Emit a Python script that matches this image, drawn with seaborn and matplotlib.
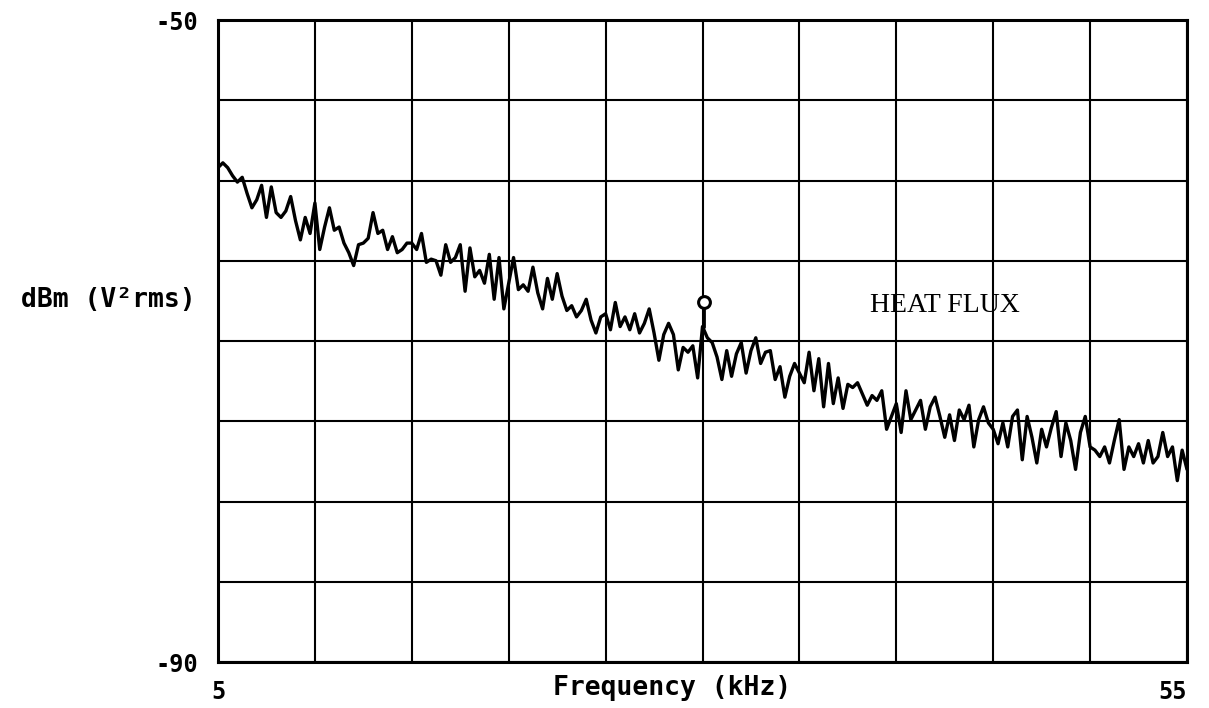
import numpy as np
import pandas as pd
import matplotlib
matplotlib.use("Agg")
import matplotlib.pyplot as plt
import seaborn as sns

# Spectrum analyser sweep: 5-55 kHz, 201 bins (0.25 kHz spacing)
f_start, f_stop = 5.0, 55.0
freq_khz = np.linspace(f_start, f_stop, 201)

# Measured level in dBm, one list per 5 kHz span
level_05_10 = [-59.2, -58.9, -59.2, -59.7, -60.1, -59.8, -60.8, -61.7, -61.2, -60.3,
               -62.3, -60.4, -62.0, -62.3, -61.9, -61.0, -62.5, -63.7, -62.3, -63.3]
level_10_15 = [-61.4, -64.3, -62.9, -61.7, -63.1, -62.9, -63.9, -64.5, -65.3, -64.0,
               -63.9, -63.6, -62.0, -63.3, -63.1, -64.3, -63.5, -64.5, -64.3, -63.9]
level_15_20 = [-63.9, -64.3, -63.3, -65.1, -64.9, -65.0, -65.9, -64.0, -65.1, -64.8,
               -64.0, -66.9, -64.2, -66.0, -65.6, -66.4, -64.6, -67.4, -64.8, -68.0]
level_20_25 = [-66.4, -64.8, -66.8, -66.5, -66.9, -65.4, -67.0, -68.0, -66.1, -67.4,
               -65.8, -67.2, -68.1, -67.8, -68.5, -68.1, -67.4, -68.7, -69.5, -68.5]
level_25_30 = [-68.3, -69.3, -67.6, -69.1, -68.5, -69.3, -68.3, -69.5, -68.9, -68.0,
               -69.5, -71.2, -69.6, -68.9, -69.6, -71.8, -70.4, -70.7, -70.3, -72.3]
level_30_35 = [-69.1, -69.8, -70.1, -71.0, -72.4, -70.6, -72.2, -70.8, -70.1, -72.0,
               -70.6, -69.8, -71.4, -70.7, -70.6, -72.4, -71.6, -73.5, -72.2, -71.4]
level_35_40 = [-72.0, -72.6, -70.7, -73.1, -71.1, -74.1, -71.4, -73.9, -72.3, -74.2,
               -72.7, -72.9, -72.6, -73.3, -74.0, -73.4, -73.7, -73.1, -75.5, -74.7]
level_40_45 = [-73.9, -75.7, -73.1, -74.9, -74.3, -73.7, -75.5, -74.1, -73.5, -74.7,
               -76.0, -74.6, -76.2, -74.3, -74.9, -74.0, -76.6, -74.9, -74.1, -75.1]
level_45_50 = [-75.5, -76.4, -75.1, -76.6, -74.7, -74.3, -77.4, -74.7, -76.0, -77.6,
               -75.5, -76.6, -75.4, -74.4, -77.2, -75.1, -76.2, -78.0, -75.7, -74.7]
level_50_55 = [-76.6, -76.8, -77.2, -76.6, -77.6, -76.2, -74.9, -78.0, -76.6, -77.2,
               -76.4, -77.6, -76.2, -77.6, -77.2, -75.7, -77.2, -76.6, -78.7, -76.8,
               -78.0]

level_dbm = (level_05_10 + level_10_15 + level_15_20 + level_20_25 + level_25_30
             + level_30_35 + level_35_40 + level_40_45 + level_45_50 + level_50_55)

# Marker readout position
marker_khz = 30.1
marker_peak_dbm = -69.1
marker_dbm = -67.6

db_min, db_max = -90, -50
trace_label = "HEAT FLUX"

df = pd.DataFrame({"freq": freq_khz, "level": level_dbm})

sns.set_style("white")
mono = ["DejaVu Sans Mono"]
plt.rcParams["font.family"] = mono
plt.rcParams["text.color"] = "black"

fig = plt.figure(figsize=(12.09, 7.08), dpi=100)
ax = fig.add_axes([218 / 1209, 1 - 662 / 708, 969 / 1209, 642 / 708])

sns.lineplot(data=df, x="freq", y="level", ax=ax, color="black",
             linewidth=2.4, estimator=None, sort=False)

# marker stem and symbol
ax.plot([marker_khz, marker_khz], [marker_peak_dbm, marker_dbm],
        color="black", linewidth=2.0)
ax.plot([marker_khz], [marker_dbm], marker="o", markersize=8.5,
        markerfacecolor="white", markeredgecolor="black", markeredgewidth=2.2)

ax.set_xlim(f_start, f_stop)
ax.set_ylim(db_min, db_max)

xt = np.arange(5, 56, 5)
yt = np.arange(db_min, db_max + 1, 5)
ax.set_xticks(xt)
ax.set_yticks(yt)
ax.set_xticklabels(["5"] + [""] * (len(xt) - 2) + ["55"])
ax.set_yticklabels(["-90"] + [""] * (len(yt) - 2) + ["-50"])
xlabels = ax.get_xticklabels()
xlabels[-1].set_ha("right")
ax.tick_params(axis="both", length=0, labelsize=17, colors="black")
ax.tick_params(axis="x", pad=13)
ax.tick_params(axis="y", pad=14)
for lab in ax.get_xticklabels() + ax.get_yticklabels():
    lab.set_fontweight("bold")

ax.grid(True, color="black", linewidth=1.5)
for side in ax.spines.values():
    side.set_visible(True)
    side.set_color("black")
    side.set_linewidth(2.2)
ax.set_xlabel("")
ax.set_ylabel("")

fig.text(672 / 1209, 1 - 688 / 708, "Frequency (kHz)", ha="center", va="center",
         fontsize=19, fontweight="bold", family=mono, color="black")
fig.text(196 / 1209, 1 - 300 / 708, "dBm (V²rms)", ha="right", va="center",
         fontsize=19, fontweight="bold", family=mono, color="black")

ax.text(42.5, -67.8, trace_label, ha="center", va="center",
        fontsize=20, family=["Liberation Serif"], color="black")

fig.savefig("out.png", dpi=100)
